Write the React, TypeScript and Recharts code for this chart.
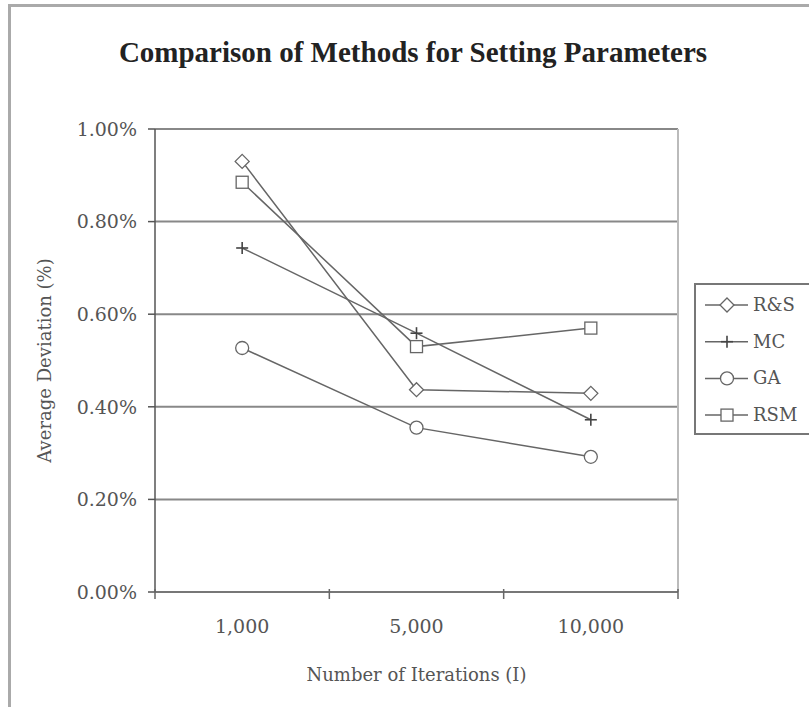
import React from 'react';
import { LineChart, Line, XAxis, YAxis, CartesianGrid, ReferenceLine } from 'recharts';

const categories = ['1,000', '5,000', '10,000'];
const rsValues = [0.93, 0.437, 0.429];
const mcValues = [0.743, 0.559, 0.372];
const gaValues = [0.527, 0.355, 0.292];
const rsmValues = [0.885, 0.53, 0.57];
const yTicks = [0, 0.2, 0.4, 0.6, 0.8, 1.0];
const xTicks = [0, 0.5, 1, 1.5, 2, 2.5, 3];

const data = categories.map((c, i) => ({
  x: i + 0.5,
  name: c,
  rs: rsValues[i],
  mc: mcValues[i],
  ga: gaValues[i],
  rsm: rsmValues[i],
}));

const LINE = '#666';
const TEXT = '#555';
const FONT = '"DejaVu Serif", serif';

const Diamond = ({ cx, cy }: any) => (
  <path d={`M${cx},${cy - 7} L${cx + 7},${cy} L${cx},${cy + 7} L${cx - 7},${cy} Z`} fill="#fff" stroke={LINE} strokeWidth={1.3} />
);
const Plus = ({ cx, cy }: any) => (
  <g stroke="#444" strokeWidth={1.6}>
    <line x1={cx - 6} y1={cy} x2={cx + 6} y2={cy} />
    <line x1={cx} y1={cy - 6} x2={cx} y2={cy + 6} />
  </g>
);
const Circ = ({ cx, cy }: any) => <circle cx={cx} cy={cy} r={6.5} fill="#fff" stroke={LINE} strokeWidth={1.3} />;
const Sq = ({ cx, cy }: any) => <rect x={cx - 6} y={cy - 6} width={12} height={12} fill="#fff" stroke={LINE} strokeWidth={1.3} />;

const XTick = (props: any) => {
  const { x, y, payload } = props;
  const v = payload.value;
  if (Number.isInteger(v)) {
    return <line x1={x} y1={y - 3} x2={x} y2={y + 7} stroke="#666" strokeWidth={1.5} />;
  }
  const idx = Math.floor(v);
  return (
    <text x={x} y={y + 41} textAnchor="middle" fill={TEXT} fontSize={19} fontFamily={FONT}>
      {categories[idx]}
    </text>
  );
};

const legendItems = [
  { name: 'R&S', Shape: Diamond },
  { name: 'MC', Shape: Plus },
  { name: 'GA', Shape: Circ },
  { name: 'RSM', Shape: Sq },
];

export default function App() {
  return (
    <div style={{ position: 'absolute', left: 0, top: 0, width: 809, height: 707, overflow: 'hidden', background: '#fff' }}>
      <div style={{ position: 'absolute', left: 8, top: 4, width: 900, height: 800, borderLeft: '3px solid #aaa', borderTop: '3px solid #aaa' }} />
      <div style={{ position: 'absolute', left: 0, top: 0 }}>
        <LineChart width={809} height={707} data={data} margin={{ top: 129, right: 131, bottom: 0, left: 0 }}>
          <CartesianGrid yAxisId="l" vertical={false} stroke="#888" strokeWidth={2} />
          <XAxis
            dataKey="x"
            type="number"
            domain={[0, 3]}
            ticks={xTicks}
            interval={0}
            height={115}
            tickSize={0}
            tickMargin={0}
            tickLine={false}
            tick={<XTick />}
            axisLine={{ stroke: '#777', strokeWidth: 2 }}
            label={{ value: 'Number of Iterations (I)', position: 'insideBottom', offset: 26, fill: TEXT, fontSize: 18, fontFamily: FONT }}
          />
          <YAxis
            yAxisId="l"
            domain={[0, 1]}
            ticks={yTicks}
            interval={0}
            width={155}
            tickSize={7}
            tickMargin={11}
            tickFormatter={(v: number) => `${v.toFixed(2)}%`}
            tick={{ fill: TEXT, fontSize: 19, fontFamily: FONT }}
            tickLine={{ stroke: '#555', strokeWidth: 1.5 }}
            axisLine={{ stroke: '#555', strokeWidth: 1.5 }}
            label={{ value: 'Average Deviation (%)', angle: -90, position: 'insideLeft', offset: 45, fill: TEXT, fontSize: 18, fontFamily: FONT, style: { textAnchor: 'middle' } }}
          />
          <ReferenceLine yAxisId="l" x={3} stroke="#bbb" strokeWidth={2} />
          <Line yAxisId="l" type="linear" dataKey="rs" name="R&S" stroke={LINE} strokeWidth={1.5} isAnimationActive={false} dot={(p: any) => <Diamond key={`rs${p.index}`} {...p} />} />
          <Line yAxisId="l" type="linear" dataKey="mc" name="MC" stroke={LINE} strokeWidth={1.5} isAnimationActive={false} dot={(p: any) => <Plus key={`mc${p.index}`} {...p} />} />
          <Line yAxisId="l" type="linear" dataKey="ga" name="GA" stroke={LINE} strokeWidth={1.5} isAnimationActive={false} dot={(p: any) => <Circ key={`ga${p.index}`} {...p} />} />
          <Line yAxisId="l" type="linear" dataKey="rsm" name="RSM" stroke={LINE} strokeWidth={1.5} isAnimationActive={false} dot={(p: any) => <Sq key={`rsm${p.index}`} {...p} />} />
        </LineChart>
      </div>
      <div
        style={{
          position: 'absolute', left: 413, top: 52, transform: 'translate(-50%, -50%)', whiteSpace: 'nowrap',
          fontFamily: '"Liberation Serif", "Times New Roman", serif', fontWeight: 'bold', fontSize: 29, color: '#222',
        }}
      >
        Comparison of Methods for Setting Parameters
      </div>
      <div style={{ position: 'absolute', left: 694, top: 283, width: 200, height: 148, border: '2px solid #777', background: '#fff' }}>
        <svg width={200} height={148} style={{ position: 'absolute', left: 0, top: 0 }}>
          {legendItems.map((it, i) => {
            const cy = 20 + i * 36.7;
            const S = it.Shape;
            return (
              <g key={it.name}>
                <line x1={9} y1={cy} x2={52} y2={cy} stroke={LINE} strokeWidth={1.5} />
                <S cx={31} cy={cy} />
                <text x={57} y={cy + 6} fill={TEXT} fontSize={18} fontFamily={FONT}>{it.name}</text>
              </g>
            );
          })}
        </svg>
      </div>
    </div>
  );
}
